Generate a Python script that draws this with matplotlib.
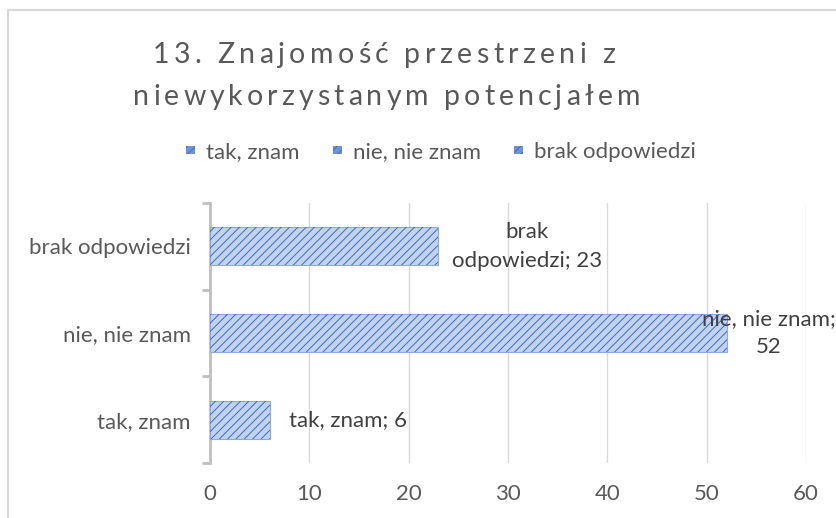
import matplotlib
matplotlib.use("Agg")
import matplotlib.pyplot as plt
from matplotlib.patches import Patch, Rectangle
from matplotlib.font_manager import FontProperties, findfont
from matplotlib.ft2font import FT2Font

plt.rcParams['font.family'] = ['Lato', 'DejaVu Sans']
plt.rcParams['hatch.linewidth'] = 0.75

# data
categories = ["tak, znam", "nie, nie znam", "brak odpowiedzi"]
values = [6, 52, 23]
point_labels = ["tak, znam; 6", "nie, nie znam;\n52", "brak\nodpowiedzi; 23"]
title_lines = ["13. Znajomość przestrzeni z", "niewykorzystanym potencjałem"]

face = "#C2D3F1"
hatch_col = "#4472C4"
edge_col = "#8FAADC"
grey = "#595959"
W, H = 837, 518

fig = plt.figure(figsize=(W / 100, H / 100), dpi=100)
fig.patches.append(Rectangle((8 / W, -0.1), 1.0, (H - 10) / H + 0.1,
                             transform=fig.transFigure, fill=False,
                             edgecolor="#D9D9D9", linewidth=1.5))

ax = fig.add_axes([210 / W, 55 / H, 596 / W, 260 / H])

pos = list(range(len(categories)))
ax.barh(pos, values, height=0.44, color=face, edgecolor=edge_col,
        linewidth=0.8, zorder=3)
ax.barh(pos, values, height=0.44, facecolor="none", edgecolor=hatch_col,
        hatch="////", linewidth=0, zorder=3)

ax.set_xlim(0, 60)
ax.set_ylim(-0.5, 2.5)
ax.set_xticks(range(0, 61, 10))
ax.set_yticks(pos)
ax.set_yticklabels(categories)
ax.set_yticks([-0.5, 0.5, 1.5, 2.5], minor=True)
ax.tick_params(axis="y", which="major", length=0, pad=14, labelsize=16, labelcolor=grey)
ax.tick_params(axis="y", which="minor", length=6, width=2, color="#BFBFBF")
ax.tick_params(axis="x", length=0, pad=15, labelsize=16, labelcolor=grey)
ax.grid(axis="x", color="#D9D9D9", linewidth=1, zorder=0)
for s in ["top", "right", "bottom"]:
    ax.spines[s].set_visible(False)
ax.spines["left"].set_color("#BFBFBF")
ax.spines["left"].set_linewidth(2)

# data labels (offset from bar end, in pixels)
offsets = [78, 42, 89]
for p, v, lab, off in zip(pos, values, point_labels, offsets):
    ax.annotate(lab, (v, p), xytext=(off * 0.72, 0), textcoords="offset points",
                ha="center", va="center", fontsize=16, color="#404040",
                linespacing=1.55, annotation_clip=False, zorder=4)

# title with expanded letter spacing, laid out char by char
tsize = 20.5
tfont = FT2Font(findfont(FontProperties(family="Lato")))
tfont.set_size(tsize, 100)
title_spans = [(153, 615, 63), (133, 640, 105)]  # left, right, baseline (px)
for line, (x0, x1, base) in zip(title_lines, title_spans):
    adv = [tfont.load_char(ord(c)).linearHoriAdvance / 65536 for c in line]
    gap = ((x1 - x0) - sum(adv)) / (len(line) - 1)
    x = x0
    for c, a in zip(line, adv):
        fig.text(x / W, 1 - base / H, c, ha="left", va="baseline",
                 fontsize=tsize, color=grey)
        x += a + gap

handles = [Patch(facecolor="#6F93D6", edgecolor=hatch_col, hatch="////", linewidth=0)
           for _ in categories]
fig.legend(handles, categories, loc="center", bbox_to_anchor=(441 / W, 1 - 152 / H),
           ncol=3, frameon=False, fontsize=16, labelcolor=grey,
           handlelength=0.4, handleheight=0.2, handletextpad=0.5, columnspacing=1.5)

fig.savefig("out.png", dpi=100)
